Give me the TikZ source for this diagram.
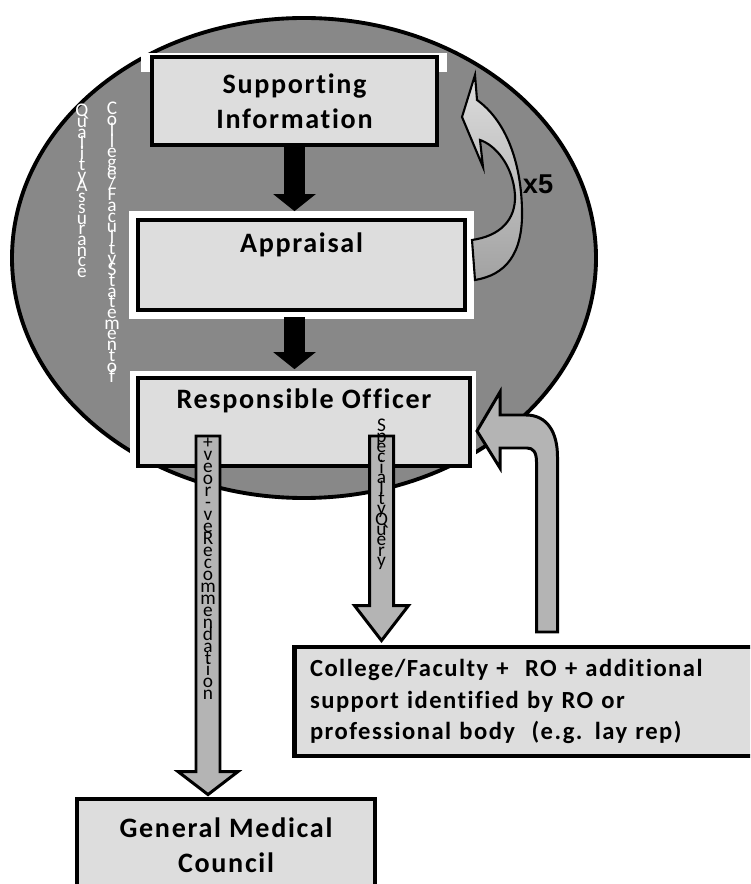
\documentclass[tikz,border=0pt]{standalone}
\usepackage{fontspec}
\setmainfont{Carlito}
\newfontfamily\titlefont[LetterSpace=6, Ligatures=NoCommon]{Carlito}
\newfontfamily\arialfont{Liberation Sans}
\usepackage{tikz}
\usetikzlibrary{calc}
\definecolor{ovalgray}{RGB}{136,136,136}
\definecolor{boxgray}{RGB}{221,221,221}
\definecolor{arrowgray}{RGB}{180,180,180}
\newcommand{\stackfont}[1]{\fontsize{11pt}{#1pt}\selectfont\lineskiplimit=-20pt\relax}

\tikzset{
  box/.style={draw=black, line width=2.8pt, fill=boxgray, inner sep=0pt, align=center,
    font=\titlefont\bfseries\fontsize{16}{20}\selectfont},
  titletext/.style={inner sep=0pt, font=\titlefont\bfseries\fontsize{16}{20}\selectfont},
  whiteframe/.style={preaction={draw=white, line width=0.38cm}},
  vlabel/.style={anchor=north, inner sep=0pt, align=center, font=\stackfont{6.1}},
  fat/.style args={#1/#2/#3}{to path={($(\tikztostart)+(-#1,0)$) -- ($(\tikztotarget)+(-#1,-#3)$)
    -- ($(\tikztotarget)+(-#2,-#3)$) -- (\tikztotarget) -- ($(\tikztotarget)+(#2,-#3)$)
    -- ($(\tikztotarget)+(#1,-#3)$) -- ($(\tikztostart)+(#1,0)$) -- cycle}},
  blackarrow/.style={fill=black, draw=black, line width=0.5pt, fat=10/20/16},
  grayarrow/.style={fill=arrowgray, draw=black, line width=1.7pt},
}

\begin{document}
\begin{tikzpicture}[x=0.02cm, y=-0.02cm]
\useasboundingbox (0,0) rectangle (750,884);
\clip (0,0) rectangle (750,884);

% the oval
\draw[fill=ovalgray, line width=2.2pt] (304,258) ellipse [x radius=292, y radius=240];

% boxes in the oval
\fill[white] (141,53) rectangle (447,72);
\node[box, minimum width=5.7cm, minimum height=1.76cm] (si) at (294.5,101) {Supporting\\Information};
\node[box, whiteframe, minimum width=6.54cm, minimum height=1.8cm] (app) at (301.5,265) {};
\node[titletext] (applabel) at ($(app.north)+(0,27)$) {Appraisal};
\fill[white] (130,371) rectangle (476,466);
\node[box, minimum width=6.64cm, minimum height=1.76cm] (ro) at (304,422) {};
\node[titletext] (rolabel) at ($(ro.north)+(0,25)$) {Responsible Officer};

% stacked texts on the oval
\node[vlabel, text=white] (qa) at (82,104) {Q\\u\\a\\l\\i\\t\\y\\A\\s\\s\\u\\r\\a\\n\\c\\e};
\node[vlabel, text=white] (cfs) at (112,102) {C\\o\\l\\l\\e\\g\\e\\/\\F\\a\\c\\u\\l\\t\\y\\S\\t\\a\\t\\e\\m\\e\\n\\t\\o\\f};

% black arrows
\coordinate (appin) at ($(si.south |- app.north)+(0,-7)$);
\coordinate (appout) at ($(si.south |- app.south)+(0,5)$);
\coordinate (roin) at ($(si.south |- ro.north)+(0,-7)$);
\draw[blackarrow] (si.south) to (appin);
\draw[blackarrow] (appout) to (roin);

% x5 loop
\draw[line width=1.2pt, top color=boxgray, bottom color=arrowgray!90!black]
  (475,75) -- (462,117) -- (483,167) -- (480,140)
  .. controls (495,145) and (513,165) .. (515,195)
  .. controls (516,220) and (500,236) .. (472,240) -- (475,280)
  .. controls (505,275) and (523,255) .. (522,210)
  .. controls (521,160) and (505,120) .. (477,100) -- cycle;
\node[font=\arialfont\bfseries\fontsize{15.5}{18}\selectfont] (times) at (538,184) {x5};

% outcome boxes
\node[box, font=\titlefont\bfseries\fontsize{14}{18}\selectfont, align=left, text width=8.76cm,
  minimum width=9.4cm, minimum height=2.18cm] (cf) at (529,701.5)
  {College/Faculty +\ \ RO + additional\\support identified by RO or\\professional body\ \ (e.g. lay rep)};
\node[box, minimum width=5.96cm, minimum height=1.84cm] (gmc) at (226,845) {General Medical\\Council};

% grey arrows out of the RO box
\coordinate (recstart) at (208,436);
\coordinate (gmcin) at ($(recstart |- gmc.north)+(0,-2)$);
\draw[grayarrow, fat=12/30/23] (recstart) to (gmcin);
\node[vlabel, font=\stackfont{6.8}] (rec) at (208,438) {+\\v\\e\\o\\r\\-\\v\\e\\R\\e\\c\\o\\m\\m\\e\\n\\d\\a\\t\\i\\o\\n};

\coordinate (sqstart) at (381.5,436);
\coordinate (cfin) at ($(sqstart |- cf.north)+(0,-4)$);
\draw[grayarrow, fat=12/27/35] (sqstart) to (cfin);
\node[vlabel, font=\stackfont{5.9}] (sq) at (381.5,419) {S\\p\\e\\c\\i\\a\\l\\t\\y\\Q\\u\\e\\r\\y};

% back to the RO
\coordinate (fbtail) at (547,632);
\coordinate (fbtip) at (477,431);
\draw[grayarrow] ($(fbtail)+(10.5,0)$) -- (557.5,457)
  .. controls (557.5,432) and (547,415) .. (526,415) -- (500,415) -- (500,392) -- (fbtip)
  -- (500,468) -- (500,448) -- (527,448)
  .. controls (533,448) and (536.5,452) .. (536.5,462) -- ($(fbtail)+(-10.5,0)$) -- cycle;
\end{tikzpicture}
\end{document}
